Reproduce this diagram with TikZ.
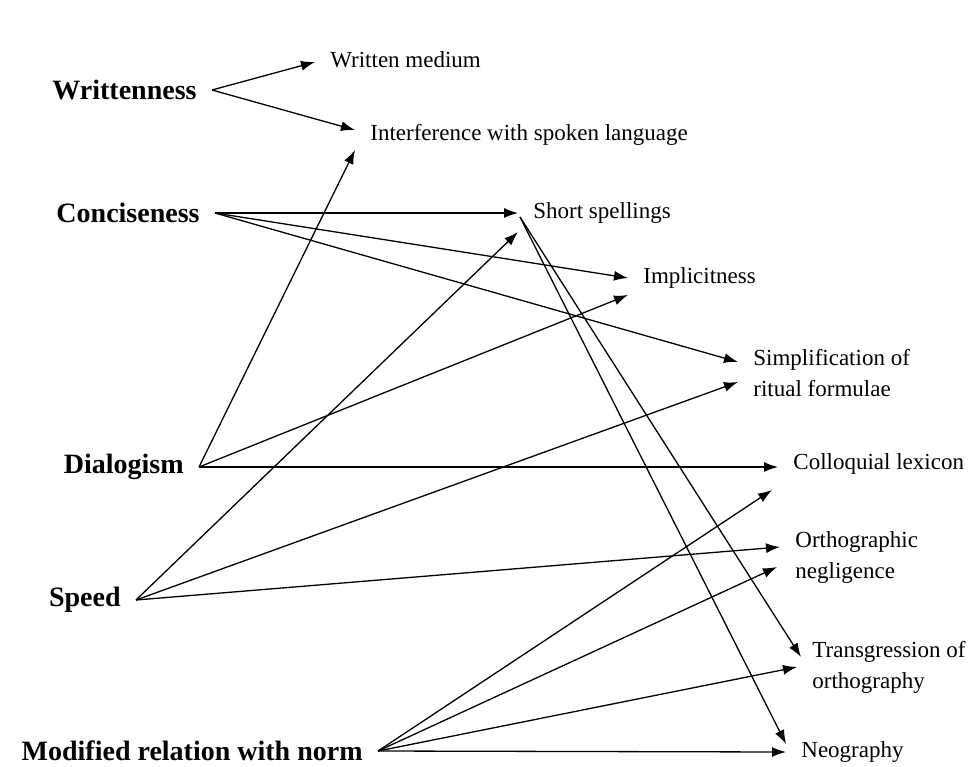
\documentclass[tikz,border=0pt]{standalone}
\usepackage{fontspec}
\setmainfont{Liberation Serif}
\usetikzlibrary{arrows.meta}

\begin{document}
\begin{tikzpicture}[x=0.5pt, y=-0.5pt,
	src/.style={anchor=east, inner xsep=7.5pt, inner ysep=1pt, font=\fontsize{14}{16}\selectfont\bfseries},
	tgt/.style={anchor=west, inner xsep=7.5pt, inner ysep=1pt, align=left, font=\fontsize{11.5}{15.5}\selectfont},
	link/.style={-{Latex[length=7pt,width=5pt]}, line width=0.65pt}]
	
	\useasboundingbox (0,0) rectangle (969,766);
	
	% sources
	\node[src] (writ)  at (212, 90)  {Writtenness};
	\node[src] (conc)  at (215, 213) {Conciseness};
	\node[src] (dial)  at (199, 467) {Dialogism};
	\node[src] (speed) at (136, 600) {Speed};
	\node[src] (norm)  at (378, 751) {Modified relation with norm};
	
	% effects
	\node[tgt] (wmed)   at (315, 60)  {Written medium};
	\node[tgt] (interf) at (355, 135) {Interference with spoken language};
	\node[tgt] (short)  at (518, 213) {Short spellings};
	\node[tgt] (impl)   at (628, 278) {Implicitness};
	\node[tgt] (simp)   at (738, 373) {Simplification of\\ritual formulae};
	\node[tgt] (coll)   at (778, 464) {Colloquial lexicon};
	\node[tgt] (orth)   at (780, 557) {Orthographic\\negligence};
	\node[tgt] (trans)  at (797, 667) {Transgression of\\orthography};
	\node[tgt] (neo)    at (786, 752) {Neography};
	
	\path[link] (writ.east) edge ([yshift=-1pt]wmed.west);
	\path[link] (writ.east) edge ([yshift=2.5pt]interf.west);
	
	\path[link] (conc.east) edge (short.west);
	\path[link] (conc.east) edge (impl.west);
	\path[link] (conc.east) edge ([yshift=5.5pt]simp.west);
	
	\path[link] (dial.east) edge ([yshift=-7.5pt]interf.west);
	\path[link] (dial.east) edge ([yshift=-8.5pt]impl.west);
	\path[link] (dial.east) edge ([yshift=-1.5pt]coll.west);
	
	\path[link] (speed.east) edge ([yshift=-9.5pt]short.west);
	\path[link] (speed.east) edge ([yshift=-4.5pt]simp.west);
	\path[link] (speed.east) edge ([yshift=5pt]orth.west);
	
	\path[link] ([xshift=1pt,yshift=-2pt]short.west) edge ([xshift=2pt,yshift=5pt]trans.west);
	\path[link] ([xshift=1pt,yshift=-2pt]short.west) edge ([yshift=4pt]neo.west);
	
	\path[link] (norm.east) edge ([xshift=-3pt,yshift=-13pt]coll.west);
	\path[link] (norm.east) edge ([xshift=-1.5pt,yshift=-5pt]orth.west);
	\path[link] (norm.east) edge (trans.west);
	\path[link] (norm.east) edge (neo.west);
	
\end{tikzpicture}
\end{document}
